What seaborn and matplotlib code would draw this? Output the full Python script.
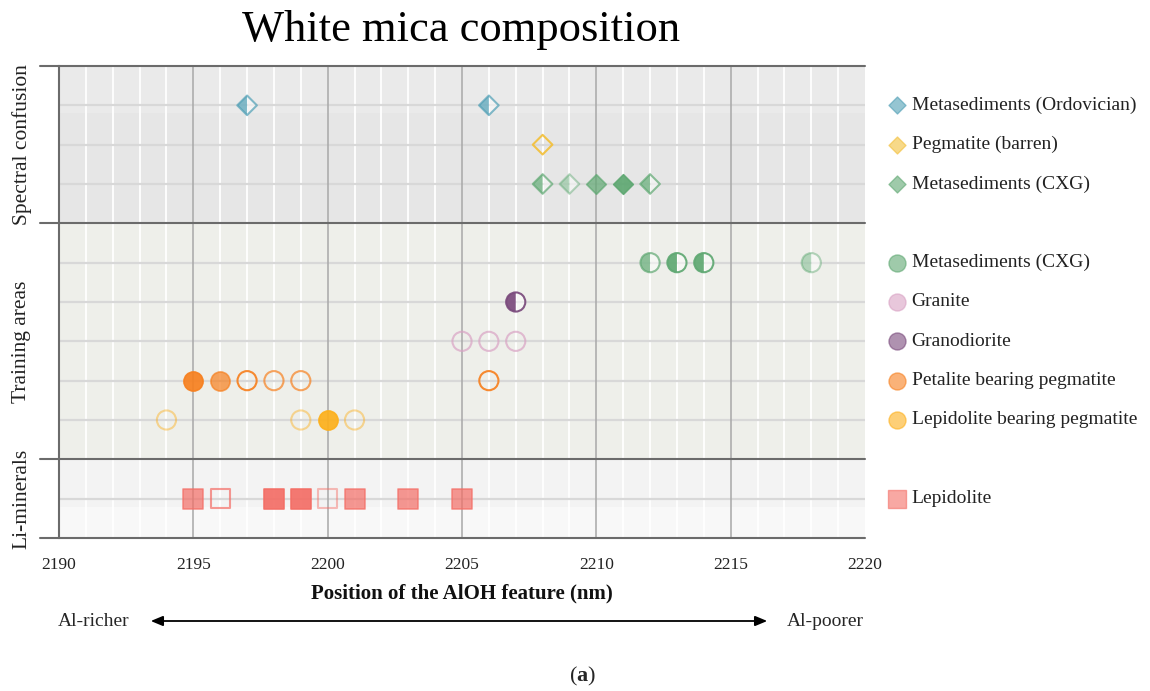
import matplotlib
matplotlib.use("Agg")
import matplotlib.pyplot as plt
from matplotlib.markers import MarkerStyle
from matplotlib import transforms
import numpy as np
import pandas as pd
import seaborn as sns

# --- data -------------------------------------------------------------
titre = "White mica composition"
xlabel = "Position of the AlOH feature (nm)"
sections = ["Spectral confusion", "Training areas", "Li-minerals"]

# groups in legend order (top -> bottom), with the section they belong to
groups = ["Metasediments (Ordovician)", "Pegmatite (barren)", "Metasediments (CXG)",
          "Metasediments (CXG) ", "Granite", "Granodiorite",
          "Petalite bearing pegmatite", "Lepidolite bearing pegmatite",
          "Lepidolite"]
group_section = [0, 0, 0, 1, 1, 1, 1, 1, 2]

# AlOH position (nm), fill kind and weight (1 = few, 3 = many) per point
ordo_x = [2197, 2206]
ordo_fill = ["half", "half"]
ordo_w = [2, 2]

barren_x = [2208]
barren_fill = ["none"]
barren_w = [3]

cxg_d_x = [2208, 2209, 2210, 2211, 2212]
cxg_d_fill = ["half", "half", "full", "full", "half"]
cxg_d_w = [2, 1, 2, 3, 2]

cxg_c_x = [2212, 2213, 2214, 2218]
cxg_c_fill = ["half", "half", "half", "half"]
cxg_c_w = [2, 3, 3, 1]

granite_x = [2205, 2206, 2207]
granite_fill = ["none", "none", "none"]
granite_w = [2, 2, 2]

grano_x = [2207]
grano_fill = ["half"]
grano_w = [3]

petal_x = [2195, 2196, 2197, 2198, 2199, 2206]
petal_fill = ["full", "full", "none", "none", "none", "none"]
petal_w = [3, 2, 3, 2, 2, 3]

lpeg_x = [2194, 2199, 2200, 2201]
lpeg_fill = ["none", "none", "full", "none"]
lpeg_w = [1, 1, 3, 1]

lepi_x = [2195, 2196, 2198, 2199, 2200, 2201, 2203, 2205]
lepi_fill = ["full", "none", "full", "full", "none", "full", "full", "full"]
lepi_w = [2, 2, 3, 3, 1, 2, 2, 2]

all_x = [ordo_x, barren_x, cxg_d_x, cxg_c_x, granite_x, grano_x, petal_x, lpeg_x, lepi_x]
all_fill = [ordo_fill, barren_fill, cxg_d_fill, cxg_c_fill, granite_fill, grano_fill,
            petal_fill, lpeg_fill, lepi_fill]
all_w = [ordo_w, barren_w, cxg_d_w, cxg_c_w, granite_w, grano_w, petal_w, lpeg_w, lepi_w]

# --- styles -------------------------------------------------------------
couleurs = ["#4f9fb5", "#f3c03a", "#5fa872", "#5fa872", "#d9a2c4", "#7a4a7c",
            "#f7801f", "#fdb01c", "#f46e66"]
marqueurs = ["D", "D", "D", "o", "o", "o", "o", "o", "s"]
tailles = {"D": 100, "o": 190, "s": 190}
alphas = {1: 0.45, 2: 0.7, 3: 0.92}

# rows: section boundaries take one slot each
slots, bounds = [], [0]
pos = 0
for s in range(len(sections)):
    n = group_section.count(s)
    slots += [pos + 1 + i for i in range(n)]
    pos += n + 1
    bounds.append(pos)
# in the plot granodiorite sits above granite (legend keeps the other order)
rows = list(slots)
rows[4], rows[5] = slots[5], slots[4]
ymax = bounds[-1]

df = pd.DataFrame([
    {"grp": g, "x": x, "fill": f, "w": w, "row": rows[g]}
    for g in range(len(groups))
    for x, f, w in zip(all_x[g], all_fill[g], all_w[g])
])

sns.set_theme(style="white")
plt.rcParams["font.family"] = ["Liberation Serif", "DejaVu Serif"]
plt.rcParams["mathtext.fontset"] = "custom"
plt.rcParams["mathtext.bf"] = "Liberation Serif:bold"

fig = plt.figure(figsize=(11.5, 6.91), dpi=100)
ax = fig.add_axes([59 / 1150, 1 - 538 / 691, 806 / 1150, 472 / 691])
ax.set_xlim(2190, 2220)
ax.set_ylim(ymax, 0)

# section backgrounds
ax.axhspan(bounds[0], bounds[0] + 1.2, color="#eaeaea", lw=0, zorder=0)
ax.axhspan(bounds[0] + 1.2, bounds[1], color="#e6e6e6", lw=0, zorder=0)
ax.axhspan(bounds[1], bounds[2], color="#eeefea", lw=0, zorder=0)
ax.axhspan(bounds[2], bounds[2] + 1.2, color="#f3f3f3", lw=0, zorder=0)
ax.axhspan(bounds[2] + 1.2, bounds[3], color="#f8f8f8", lw=0, zorder=0)

# grid
for v in range(2191, 2220):
    if v % 5:
        ax.axvline(v, color="white", lw=1.3, zorder=1)
for v in range(2195, 2220, 5):
    ax.axvline(v, color="#a8a8a8", lw=1.1, zorder=1.5)
for r in slots:
    ax.axhline(r, color="#d8d8d8", lw=1.6, zorder=1.2)
for b in bounds:
    ax.axhline(b, xmin=-19 / 806, xmax=1, color="#6b6b6b", lw=1.5,
               clip_on=False, zorder=3)

# points
for g in range(len(groups)):
    col, mk = couleurs[g], marqueurs[g]
    s = tailles[mk]
    sub = df[df.grp == g]
    for (f, w), d in sub.groupby(["fill", "w"]):
        a = alphas[w]
        if f == "full":
            sns.scatterplot(data=d, x="x", y="row", marker=mk, s=s, color=col,
                            edgecolor=col, linewidth=1.2, alpha=a, ax=ax,
                            legend=False, zorder=4)
        elif f == "none":
            sns.scatterplot(data=d, x="x", y="row", marker=mk, s=s, color=col,
                            facecolor="none", edgecolor=col, linewidth=1.5,
                            alpha=a, ax=ax, legend=False, zorder=4)
        else:
            sns.scatterplot(data=d, x="x", y="row", marker=mk, s=s, color="white",
                            edgecolor="none", alpha=0.5, ax=ax, legend=False, zorder=4)
            sns.scatterplot(data=d, x="x", y="row", marker=MarkerStyle(mk, fillstyle="left"),
                            s=s, color=col, edgecolor="none", linewidth=0, alpha=a,
                            ax=ax, legend=False, zorder=4.5)
            sns.scatterplot(data=d, x="x", y="row", marker=mk, s=s, color=col,
                            facecolor="none", edgecolor=col, linewidth=1.5,
                            alpha=a, ax=ax, legend=False, zorder=5)

# legend next to the rows
trans = transforms.blended_transform_factory(ax.transAxes, ax.transData)
for g in range(len(groups)):
    mk = marqueurs[g]
    ls = {"D": 75, "o": 150, "s": 150}[mk]
    ax.scatter([1.04], [slots[g]], marker=mk, s=ls, color=couleurs[g], alpha=0.6,
               edgecolor=couleurs[g], linewidth=1, transform=trans, clip_on=False)
    ax.text(1.058, slots[g], groups[g].strip(), transform=trans, va="center",
            ha="left", fontsize=14, color="#222222")

# section labels
for s, name in enumerate(sections):
    ax.text(-0.046, (bounds[s] + bounds[s + 1]) / 2, name, transform=trans,
            rotation=90, ha="center", va="center", fontsize=15.5, color="#222222")

# axes
sns.despine(ax=ax, top=True, right=True, bottom=True, left=False)
ax.spines["left"].set_color("#6b6b6b")
ax.spines["left"].set_linewidth(1.5)
ax.set_yticks([])
ax.set_xticks(range(2190, 2221, 5))
ax.set_xticks(range(2190, 2221), minor=True)
ax.tick_params(axis="x", which="major", direction="inout", length=10, width=1.3,
               color="#6b6b6b", pad=9, labelsize=12.5, labelcolor="#222222")
ax.tick_params(axis="x", which="minor", direction="out", length=5, width=1.1,
               color="#6b6b6b")
ax.set_xlabel(xlabel, fontsize=15, fontweight="bold", labelpad=7, color="#111111")
ax.set_ylabel("")

fig.text(461 / 1150, 1 - 30 / 691, titre, ha="center", va="center", fontsize=32,
         color="black")

# Al-richer / Al-poorer arrow
y_arr = 1 - 621 / 691
fig.text(94 / 1150, y_arr, "Al-richer", ha="center", va="center", fontsize=14)
fig.text(825 / 1150, y_arr, "Al-poorer", ha="center", va="center", fontsize=14)
ax.annotate("", xy=(770 / 1150, y_arr), xytext=(148 / 1150, y_arr),
            xycoords="figure fraction", textcoords="figure fraction",
            arrowprops=dict(arrowstyle="<|-|>,head_length=0.6,head_width=0.25",
                            color="black", lw=1.3))

fig.text(583 / 1150, 1 - 676 / 691, r"($\mathbf{a}$)", ha="center", va="center",
         fontsize=16)

fig.savefig("out.png", dpi=100)
